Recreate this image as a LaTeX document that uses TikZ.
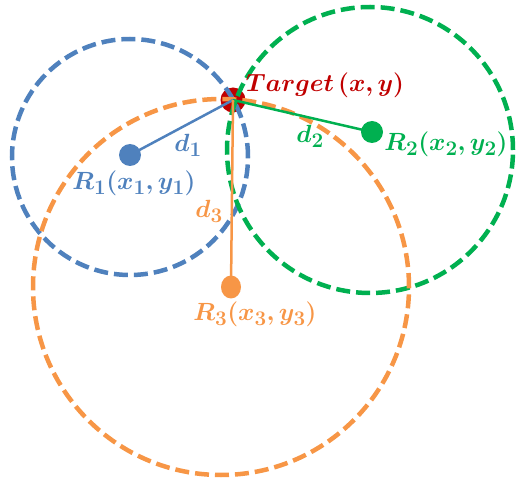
\documentclass[tikz,border=0pt]{standalone}
\usepackage{amsmath}
\usepackage{bm}
\usetikzlibrary{shapes.geometric}
\definecolor{cblue}{HTML}{4F81BD}
\definecolor{cgreen}{HTML}{00B050}
\definecolor{corange}{HTML}{F79646}
\definecolor{cred}{HTML}{C00000}
\begin{document}
\begin{tikzpicture}[x=1pt,y=-1pt,
  ring/.style={line width=4.5pt, dash pattern=on 14pt off 6pt},
  dot/.style={circle, inner sep=0pt, minimum size=22pt},
  link/.style={line width=2.5pt},
  lbl/.style={font=\fontsize{24.88}{28}\selectfont, inner sep=0pt}]
\useasboundingbox (0,0) rectangle (520,481);
% target
\node[dot, fill=cred, minimum size=25pt] (t) at (233,100) {};
% circles
\draw[ring, cblue] (130,157) circle[radius=118pt];
\draw[ring, cgreen] (370,150) circle[radius=143pt];
\draw[ring, corange] (221,287) circle[radius=188pt];
% receivers
\node[dot, fill=cblue] (r1) at (130,155) {};
\node[dot, fill=cgreen] (r2) at (372,132) {};
\node[ellipse, inner sep=0pt, fill=corange, minimum width=20pt, minimum height=23pt] (r3) at (231,287) {};
% links
\draw[link, cblue] (r1.center) -- (t.center);
\draw[link, cgreen] (t.center) -- (r2.center);
\draw[link, corange] (t.center) -- (r3.center);
% labels
\node[lbl, text=cred] (tl) at (325,85) {$\bm{Target\,(x,y)}$};
\node[lbl, text=cblue] (d1) at (188,145) {$\bm{d_1}$};
\node[lbl, text=cgreen] (d2) at (310,136) {$\bm{d_2}$};
\node[lbl, text=corange] (d3) at (209,211) {$\bm{d_3}$};
\node[lbl, text=cblue] (l1) at (134,183) {$\bm{R_1(x_1,y_1)}$};
\node[lbl, text=cgreen] (l2) at (446,144) {$\bm{R_2(x_2,y_2)}$};
\node[lbl, text=corange] (l3) at (255,314) {$\bm{R_3(x_3,y_3)}$};
\end{tikzpicture}
\end{document}
